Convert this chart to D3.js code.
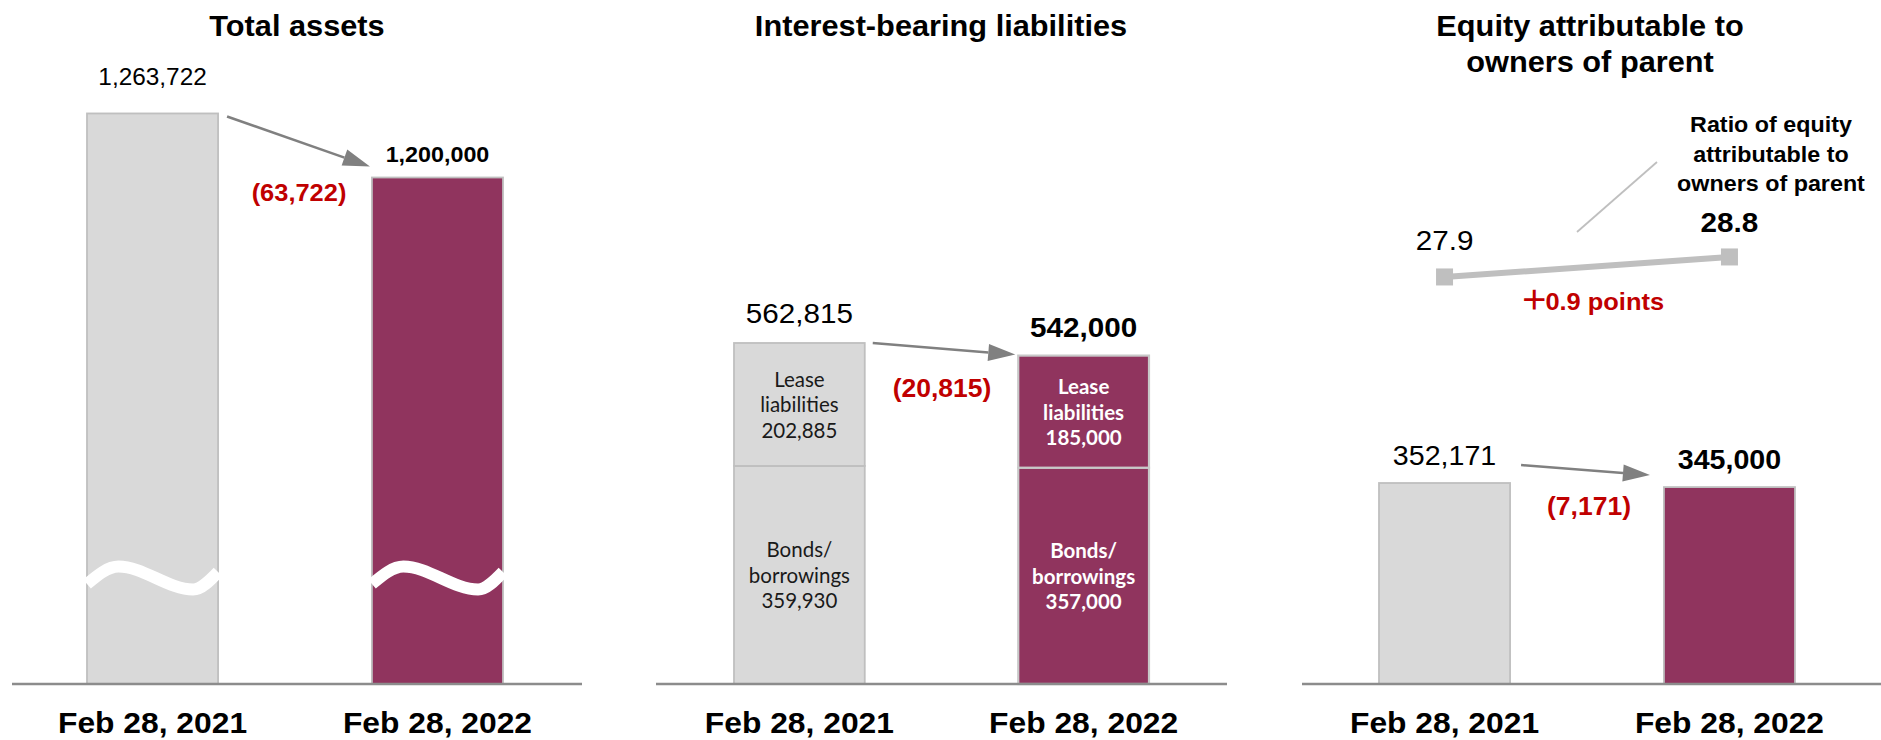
<!DOCTYPE html>
<html>
<head>
<meta charset="utf-8">
<script src="https://cdn.jsdelivr.net/npm/d3@7"></script>
<style>
  html, body { margin: 0; padding: 0; background: #fff; }
  svg { display: block; }
  text { font-family: "Liberation Sans", Arial, sans-serif; }
</style>
</head>
<body>
<svg id="chart" width="1881" height="740"></svg>
<script>
// ---- data ----
const categories = ["Feb 28, 2021", "Feb 28, 2022"];
const totalAssets = [1263722, 1200000];
const leaseLiabilities = [202885, 185000];
const bondsBorrowings = [359930, 357000];
const interestBearing = [562815, 542000];
const equityAttributable = [352171, 345000];
const equityRatio = [27.9, 28.8];

const panelTitles = [["Total assets"], ["Interest-bearing liabilities"], ["Equity attributable to", "owners of parent"]];
const segmentNames = { bonds: ["Bonds/", "borrowings"], lease: ["Lease", "liabilities"] };
const ratioCaption = ["Ratio of equity", "attributable to", "owners of parent"];

// ---- styling ----
const BASE = 684, SX = 1.06;
const GREY = "#D9D9D9", EDGE = "#BFBFBF", PLUM = "#90345E", RED = "#C00000", ARROW = "#808080";
const fmt = d3.format(",");
const svg = d3.select("#chart");

function label(g, x, y, s, o = {}) {
  return g.append("text")
    .attr("transform", `translate(${x},${y}) scale(${o.sx ?? SX},1)`)
    .attr("text-anchor", o.anchor || "middle")
    .attr("font-size", o.size || 22)
    .attr("font-weight", o.bold ? "bold" : "normal")
    .attr("fill", o.fill || "#000")
    .style("font-family", o.family || null)
    .text(s);
}

function arrow(g, x1, y1, x2, y2) {
  const a = Math.atan2(y2 - y1, x2 - x1), L = 27, hw = 8.5;
  const bx = x2 - L * Math.cos(a), by = y2 - L * Math.sin(a);
  g.append("line").attr("x1", x1).attr("y1", y1).attr("x2", bx).attr("y2", by)
    .attr("stroke", ARROW).attr("stroke-width", 2.5);
  g.append("path")
    .attr("d", `M${x2},${y2}L${bx - hw * Math.sin(a)},${by + hw * Math.cos(a)}L${bx + hw * Math.sin(a)},${by - hw * Math.cos(a)}Z`)
    .attr("fill", ARROW);
}

// ---- panel layout ----
const panels = [
  { title: panelTitles[0], cx: 297, axis: [12, 582], band: [87, 503],
    y: d3.scaleLinear().domain([696000, 1300000]).range([BASE, 77]),
    values: totalAssets, valueSize: [23, 22], valueOff: [-28, -15],
    arrowFrom: [9, 3], arrowTo: [-2, -11],
    change: { x: 299, y: 201, size: 24 }, breakY: 578 },
  { title: panelTitles[1], cx: 941, axis: [656, 1227], band: [734, 1149],
    y: d3.scaleLinear().domain([0, 1000000]).range([BASE, 78.1]),
    values: interestBearing, valueSize: [28, 28], valueOff: [-20, -19],
    arrowFrom: [8, 0], arrowTo: [-3, -1],
    change: { x: 942, y: 397, size: 25 } },
  { title: panelTitles[2], cx: 1590, axis: [1302, 1881], band: [1379, 1795],
    y: d3.scaleLinear().domain([0, 1000000]).range([BASE, 113.25]),
    values: equityAttributable, valueSize: [27, 27], valueOff: [-18, -18],
    arrowFrom: [11, -18], arrowTo: [-14, -12],
    change: { x: 1589, y: 515, size: 25 } }
];

panels.forEach((p, pi) => {
  p.x = d3.scaleBand().domain(categories).range(p.band).paddingInner(0.54).paddingOuter(0);
  const g = svg.append("g");

  // title
  p.title.forEach((t, i) => label(g, p.cx, 36 + i * 36, t, { size: 29, bold: true }));

  // bars
  if (pi === 1) {
    const rows = categories.map((c, i) => ({ cat: c, bonds: bondsBorrowings[i], lease: leaseLiabilities[i] }));
    const stack = d3.stack().keys(["bonds", "lease"])(rows);
    stack.forEach(layer => {
      layer.forEach((d, i) => {
        const x0 = p.x(d.data.cat), bw = p.x.bandwidth();
        const yTop = p.y(d[1]), yBot = p.y(d[0]);
        g.append("rect").attr("x", x0).attr("y", yTop).attr("width", bw).attr("height", yBot - yTop)
          .attr("fill", i === 0 ? GREY : PLUM)
          .attr("stroke", i === 0 ? EDGE : "#C8C8C8").attr("stroke-width", i === 0 ? 1.8 : 2.2);
        const mid = (yTop + yBot) / 2 + 8;
        const lines = [...segmentNames[layer.key], fmt(d.data[layer.key])];
        lines.forEach((s, k) => label(g, x0 + bw / 2, mid + (k - 1) * 25.5, s,
          { size: 20.5, sx: 1, family: "Lato", bold: i === 1, fill: i === 0 ? "#1a1a1a" : "#fff" }));
      });
    });
  } else {
    categories.forEach((c, i) => {
      g.append("rect").attr("x", p.x(c)).attr("y", p.y(p.values[i]))
        .attr("width", p.x.bandwidth()).attr("height", BASE - p.y(p.values[i]))
        .attr("fill", i === 0 ? GREY : PLUM).attr("stroke", EDGE).attr("stroke-width", 1.8);
    });
  }

  // axis break on the truncated bars
  if (p.breakY) {
    categories.forEach(c => {
      const x0 = p.x(c), bw = p.x.bandwidth();
      const pts = [[x0, p.breakY + 6], [x0 + 0.24 * bw, p.breakY - 11.5], [x0 + 0.81 * bw, p.breakY + 11.5], [x0 + bw, p.breakY - 6]];
      g.append("path").attr("d", d3.line().curve(d3.curveMonotoneX)(pts))
        .attr("fill", "none").attr("stroke", "#fff").attr("stroke-width", 12);
    });
  }

  // baseline
  g.append("line").attr("x1", p.axis[0]).attr("x2", p.axis[1]).attr("y1", BASE).attr("y2", BASE)
    .attr("stroke", "#8C8C8C").attr("stroke-width", 2.5);

  // category labels
  categories.forEach(c => label(g, p.x(c) + p.x.bandwidth() / 2, 733, c, { size: 30, bold: true }));

  // value labels
  categories.forEach((c, i) => label(g, p.x(c) + p.x.bandwidth() / 2, p.y(p.values[i]) + p.valueOff[i],
    fmt(p.values[i]), { size: p.valueSize[i], bold: i === 1 }));

  // change arrow and amount
  const c0 = categories[0], c1 = categories[1];
  arrow(g, p.x(c0) + p.x.bandwidth() + p.arrowFrom[0], p.y(p.values[0]) + p.arrowFrom[1],
    p.x(c1) + p.arrowTo[0], p.y(p.values[1]) + p.arrowTo[1]);
  const diff = p.values[1] - p.values[0];
  label(g, p.change.x, p.change.y, diff < 0 ? `(${fmt(-diff)})` : `+${fmt(diff)}`,
    { size: p.change.size, bold: true, fill: RED });
});

// ---- equity ratio line (third panel) ----
const p3 = panels[2];
const ry = d3.scaleLinear().domain([20, 30]).range([452.5, 230.3]);
const gl = svg.append("g");
const pts = categories.map((c, i) => [p3.x(c) + p3.x.bandwidth() / 2, ry(equityRatio[i])]);
gl.append("path").attr("d", d3.line()(pts)).attr("fill", "none").attr("stroke", EDGE).attr("stroke-width", 6);
gl.selectAll("rect.mk").data(pts).join("rect").attr("class", "mk")
  .attr("x", d => d[0] - 8.5).attr("y", d => d[1] - 8.5).attr("width", 17).attr("height", 17).attr("fill", EDGE);
label(gl, pts[0][0], pts[0][1] - 27, equityRatio[0].toFixed(1), { size: 28 });
label(gl, pts[1][0], pts[1][1] - 25, equityRatio[1].toFixed(1), { size: 28, bold: true });

// ratio change: wide plus sign followed by the amount
const chg = gl.append("text")
  .attr("transform", `translate(1592,310) scale(${SX},1)`)
  .attr("text-anchor", "middle").attr("font-size", 24).attr("font-weight", "bold").attr("fill", RED);
chg.append("tspan").style("font-family", "'Noto Sans CJK JP'").attr("font-weight", "bold")
  .attr("font-size", 27).text("＋");
chg.append("tspan").attr("dx", -3).text(`${(equityRatio[1] - equityRatio[0]).toFixed(1)} points`);

// caption with leader line
gl.append("line").attr("x1", 1577).attr("y1", 232).attr("x2", 1657).attr("y2", 162)
  .attr("stroke", EDGE).attr("stroke-width", 1.8);
ratioCaption.forEach((s, i) => label(gl, 1771, [132, 162, 191][i], s, { size: 22, bold: true }));
</script>
</body>
</html>
